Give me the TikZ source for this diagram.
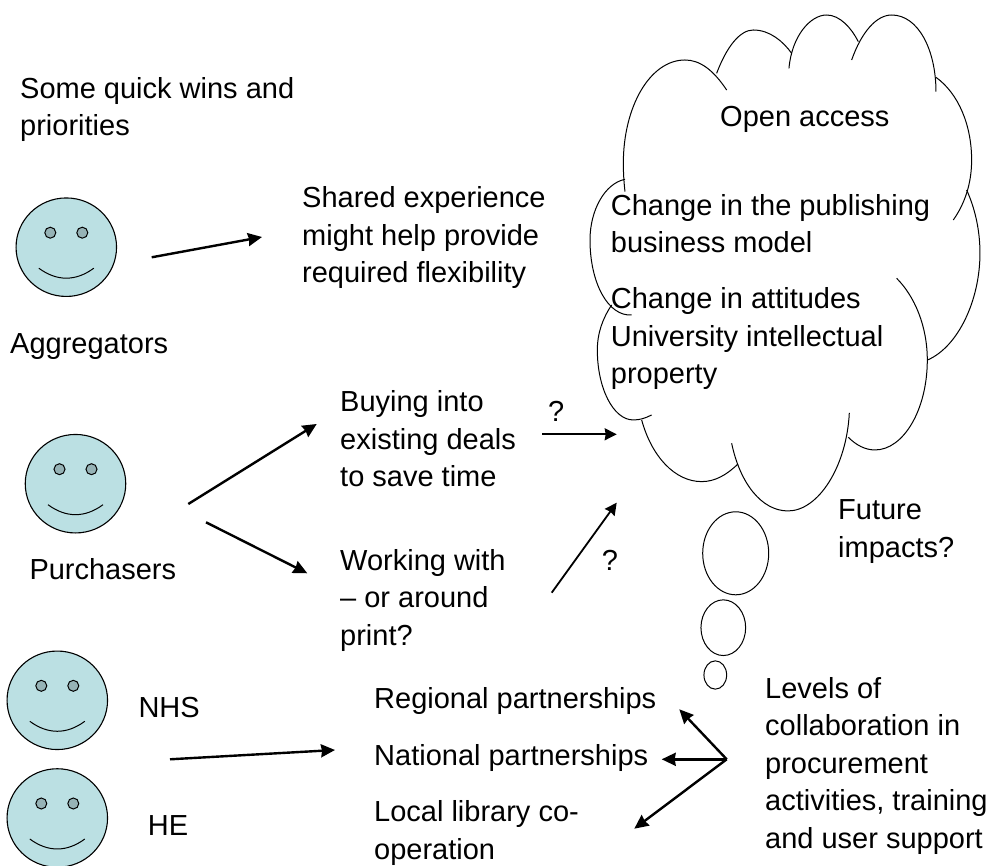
\documentclass[tikz,border=0pt]{standalone}
\usepackage{fontspec}
\setmainfont{Liberation Sans}
\usetikzlibrary{arrows.meta,shapes.geometric}
\definecolor{faceblue}{HTML}{BBE0E3}
\definecolor{eyeblue}{HTML}{96B3B6}
\tikzset{
  x=1pt,y=-1pt,
  lbl/.style={inner sep=0pt,anchor=base west,align=left,font=\fontsize{29}{37.5}\selectfont},
  facebody/.style={draw=black,line width=1.1pt,fill=faceblue,ellipse,minimum width=100.5pt,minimum height=98.5pt,inner sep=0pt,outer sep=0pt},
  eyeball/.style={draw=black,line width=1pt,fill=eyeblue,circle,minimum size=11pt,inner sep=0pt},
  cloudline/.style={draw=black,line width=1pt},
  bubble/.style={draw=black,line width=1pt,ellipse,inner sep=0pt,outer sep=0pt},
  arr/.style={draw=black,line width=2.4pt,-{Stealth[length=14pt,width=13pt,inset=1pt]}},
  arrthin/.style={draw=black,line width=1.8pt,-{Stealth[length=12pt,width=12pt,inset=1pt]}},
}
\newcommand{\smiley}[3]{% name, cx, cy
  \node[facebody] (#1) at (#2,#3) {};
  \node[eyeball] (#1l) at ([xshift=-16pt,yshift=14.5pt]#1.center) {};
  \node[eyeball] (#1r) at ([xshift=16pt,yshift=14.5pt]#1.center) {};
  \coordinate (#1a) at ([xshift=-27.5pt,yshift=-21pt]#1.center);
  \coordinate (#1b) at ([xshift=27.5pt,yshift=-21pt]#1.center);
  \draw[line width=1pt] (#1a) .. controls ([xshift=18pt,yshift=-13.3pt]#1a) and ([xshift=-18pt,yshift=-13.3pt]#1b) .. (#1b);
}
\begin{document}
\begin{tikzpicture}
\clip (0,0) rectangle (994,866);
\fill[white] (0,0) rectangle (994,866);
% cloud, drawn in zoom-derived pixel coordinates
\begin{scope}[shift={(590,0)},x=0.3333pt,y=-0.3333pt]
\draw[cloudline] (410,270) .. controls (370,210) and (330,180) .. (285,180) .. controls (180,180) and (100,320) .. (100,490) .. controls (100,520) and (102,550) .. (105,575);
\draw[cloudline] (380,220) .. controls (410,140) and (450,90) .. (490,90) .. controls (540,90) and (580,125) .. (605,160);
\draw[cloudline] (597,205) .. controls (605,110) and (660,45) .. (710,45) .. controls (750,45) and (785,85) .. (805,125);
\draw[cloudline] (785,180) .. controls (815,95) and (860,45) .. (905,45) .. controls (985,45) and (1038,150) .. (1038,275);
\draw[cloudline] (1038,232) .. controls (1105,280) and (1145,375) .. (1145,480) .. controls (1145,550) and (1125,610) .. (1090,660);
\draw[cloudline] (1130,570) .. controls (1155,625) and (1170,690) .. (1170,760) .. controls (1170,900) and (1105,1040) .. (1013,1080);
\draw[cloudline] (920,835) .. controls (975,890) and (1012,980) .. (1012,1080) .. controls (1012,1230) and (940,1350) .. (855,1350) .. controls (825,1350) and (798,1335) .. (775,1312);
\draw[cloudline] (425,1330) .. controls (450,1450) and (515,1533) .. (594,1533) .. controls (685,1533) and (770,1400) .. (778,1239);
\draw[cloudline] (444,1392) .. controls (410,1425) and (375,1445) .. (335,1445) .. controls (255,1445) and (185,1370) .. (155,1260);
\draw[cloudline] (185,1245) .. controls (165,1255) and (150,1260) .. (130,1260) .. controls (70,1260) and (22,1165) .. (22,1050) .. controls (22,1000) and (38,955) .. (65,915);
\draw[cloudline] (125,945) .. controls (55,950) and (0,850) .. (0,720) .. controls (0,630) and (45,550) .. (105,538);
\end{scope}
\node[bubble,minimum width=66pt,minimum height=83pt] (b1) at (735.7,553.3) {};
\node[bubble,minimum width=44.7pt,minimum height=55.7pt] (b2) at (723.3,627.7) {};
\node[bubble,minimum width=22.7pt,minimum height=28.3pt] (b3) at (715.3,675) {};
% faces
\smiley{agg}{66.3}{247.2}
\smiley{pur}{75.5}{483.7}
\smiley{nhs}{57.3}{700.3}
\smiley{he}{57.3}{818}
% labels
\node[lbl] (t1) at (20,136) {Some quick wins and\\priorities};
\node[lbl] (t2) at (302,283) {Shared experience\\might help provide\\required flexibility};
\node[lbl] (t3) at (10,354) {Aggregators};
\node[lbl] (t4) at (720,126.5) {Open access};
\node[lbl] (t5) at (610.7,253) {Change in the publishing\\business model};
\node[lbl] (t6) at (610.7,384) {Change in attitudes\\University intellectual\\property};
\node[lbl] (t7) at (340,487) {Buying into\\existing deals\\to save time};
\node[lbl] (t8) at (340,645) {Working with\\– or around\\print?};
\node[lbl] (t9) at (29.3,579) {Purchasers};
\node[lbl] (t10) at (138.3,717) {NHS};
\node[lbl] (t11) at (147.7,835) {HE};
\node[lbl] (t12) at (374,708) {Regional partnerships};
\node[lbl] (t13) at (374,765) {National partnerships};
\node[lbl] (t14) at (374,859) {Local library co-\\operation};
\node[lbl] (t15) at (765,848) {Levels of\\collaboration in\\procurement\\activities, training\\and user support};
\node[lbl] (t16) at (838,557.5) {Future\\impacts?};
\node[lbl] (q1) at (548,421.7) {?};
\node[lbl] (q2) at (601.7,570) {?};
% connector ends
\coordinate (a1s) at (151.7,257.3); \coordinate (a1e) at (262,237);
\coordinate (a2s) at (188.3,504); \coordinate (a2e) at (316.7,424);
\coordinate (a3s) at (206,522.3); \coordinate (a3e) at (307.3,573.3);
\coordinate (a4s) at (170,759.3); \coordinate (a4e) at (335,750);
\coordinate (a5s) at (542.3,434.3); \coordinate (a5e) at (616.7,434.3);
\coordinate (a6s) at (551.7,592.7); \coordinate (a6e) at (616.7,502.7);
\coordinate (hub) at (726.7,759.3);
\coordinate (h1) at (679.3,709.3); \coordinate (h2) at (661.7,759.3); \coordinate (h3) at (634.3,828.7);
\draw[arr] (a1s) -- (a1e);
\draw[arr] (a2s) -- (a2e);
\draw[arr] (a3s) -- (a3e);
\draw[arr] (a4s) -- (a4e);
\draw[arrthin] (a5s) -- (a5e);
\draw[arrthin] (a6s) -- (a6e);
\draw[arr] (hub) -- (h1);
\draw[arr] (hub) -- (h2);
\draw[arr] (hub) -- (h3);
\end{tikzpicture}
\end{document}
